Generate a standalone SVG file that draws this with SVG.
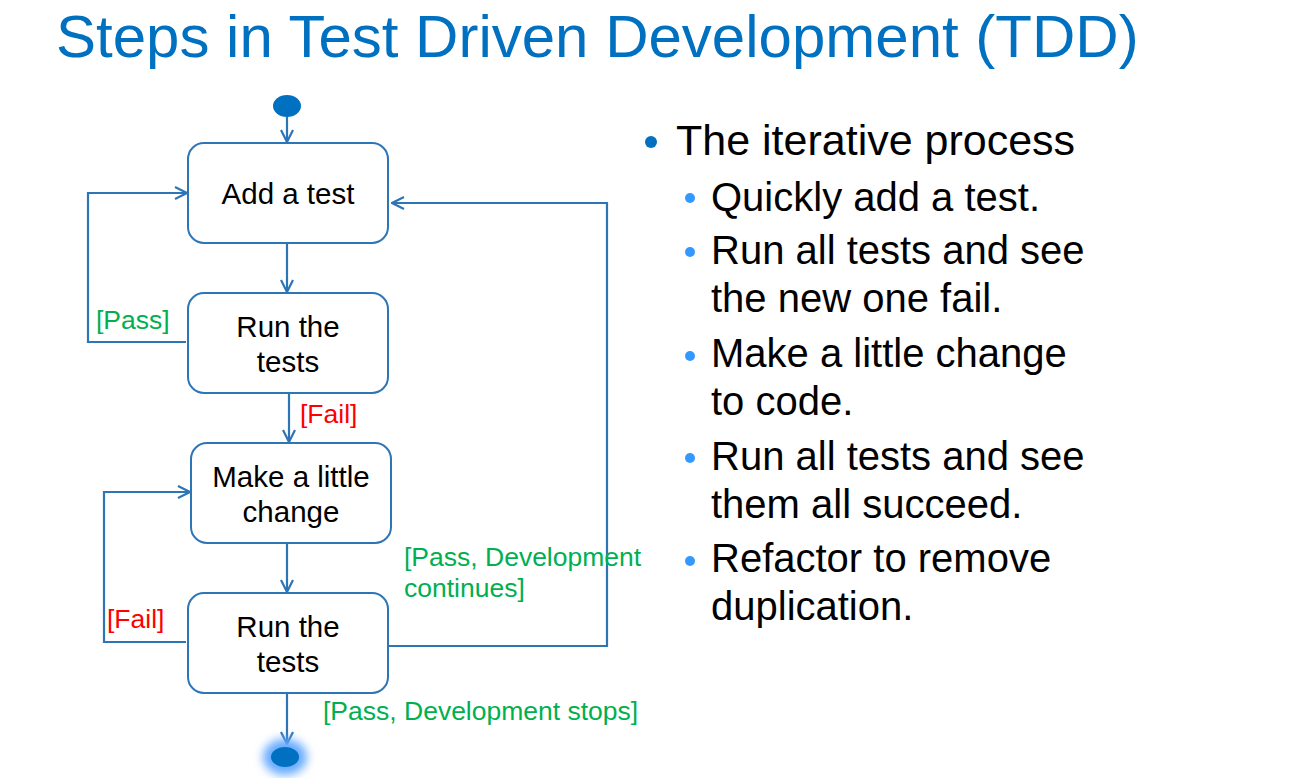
<svg xmlns="http://www.w3.org/2000/svg" width="1289" height="778" viewBox="0 0 1289 778">
  <style>
    .title { font-family: "Liberation Sans", Arial, sans-serif; font-size: 60px; fill: #0070C0; }
    .box { fill: #FFFFFF; stroke: #2E75B6; stroke-width: 2; }
    .lbl { font-family: "Liberation Sans", Arial, sans-serif; font-size: 29.5px; fill: #000000; text-anchor: middle; }
    .edge { fill: none; stroke: #2E75B6; stroke-width: 2.2; }
    .pass { font-family: "Liberation Sans", Arial, sans-serif; font-size: 26.5px; fill: #00B050; }
    .fail { font-family: "Liberation Sans", Arial, sans-serif; font-size: 26.5px; fill: #FF0000; }
    .b1 { font-family: "Liberation Sans", Arial, sans-serif; font-size: 43px; fill: #000000; }
    .b2 { font-family: "Liberation Sans", Arial, sans-serif; font-size: 40px; fill: #000000; }
  </style>
  <defs>
    <marker id="open" viewBox="0 0 14 14" refX="13" refY="7" markerWidth="14" markerHeight="14" markerUnits="userSpaceOnUse" orient="auto">
      <path d="M1,1 L13,7 L1,13" fill="none" stroke="#2E75B6" stroke-width="2.2"/>
    </marker>
    <filter id="glow" x="-100%" y="-100%" width="300%" height="300%">
      <feGaussianBlur stdDeviation="5"/>
    </filter>
  </defs>

  <rect width="1289" height="778" fill="#FFFFFF"/>

  <text class="title" x="56" y="57">Steps in Test Driven Development (TDD)</text>

  <!-- connectors -->
  <g id="connectors">
    <line class="edge" x1="287" y1="117" x2="287" y2="142" marker-end="url(#open)"/>
    <line class="edge" x1="287" y1="243" x2="287" y2="292" marker-end="url(#open)"/>
    <line class="edge" x1="289" y1="393" x2="289" y2="442" marker-end="url(#open)"/>
    <line class="edge" x1="287" y1="543" x2="287" y2="592" marker-end="url(#open)"/>
    <line class="edge" x1="287" y1="693" x2="287" y2="744" marker-end="url(#open)"/>
    <!-- pass: back to add a test -->
    <polyline class="edge" points="186,342 88,342 88,193 187,193" marker-end="url(#open)"/>
    <!-- fail: back to make a little change -->
    <polyline class="edge" points="186,642 104,642 104,492 190,492" marker-end="url(#open)"/>
    <!-- pass, development continues -->
    <polyline class="edge" points="388,646 607,646 607,203 392,203" marker-end="url(#open)"/>

    <text class="pass" x="96" y="329">[Pass]</text>
    <text class="fail" x="300" y="423">[Fail]</text>
    <text class="fail" x="107" y="628">[Fail]</text>
    <text class="pass" x="404" y="566">[Pass, Development</text>
    <text class="pass" x="404" y="597">continues]</text>
    <text class="pass" x="323" y="720">[Pass, Development stops]</text>
  </g>

  <g id="start">
    <ellipse cx="287" cy="106" rx="14" ry="11" fill="#0070C0"/>
  </g>

  <g id="add-test">
    <rect class="box" x="188" y="143" width="200" height="100" rx="16"/>
    <text class="lbl" x="288" y="204">Add a test</text>
  </g>

  <g id="run-tests-1">
    <rect class="box" x="188" y="293" width="200" height="100" rx="16"/>
    <text class="lbl" x="288" y="337">Run the</text>
    <text class="lbl" x="288" y="372">tests</text>
  </g>

  <g id="make-change">
    <rect class="box" x="191" y="443" width="200" height="100" rx="16"/>
    <text class="lbl" x="291" y="487">Make a little</text>
    <text class="lbl" x="291" y="522">change</text>
  </g>

  <g id="run-tests-2">
    <rect class="box" x="188" y="593" width="200" height="100" rx="16"/>
    <text class="lbl" x="288" y="637">Run the</text>
    <text class="lbl" x="288" y="672">tests</text>
  </g>

  <g id="end">
    <ellipse cx="285" cy="757" rx="22" ry="18" fill="#66AAFF" filter="url(#glow)"/>
    <ellipse cx="285" cy="757" rx="14" ry="10" fill="#0070C0"/>
  </g>

  <!-- bullet list -->
  <g id="notes">
    <circle cx="651" cy="142" r="6" fill="#0070C0"/>
    <text class="b1" x="676" y="155">The iterative process</text>

    <circle cx="690" cy="198" r="5" fill="#3399FF"/>
    <text class="b2" x="711" y="211">Quickly add a test.</text>

    <circle cx="690" cy="252" r="5" fill="#3399FF"/>
    <text class="b2" x="711" y="264">Run all tests and see</text>
    <text class="b2" x="711" y="312">the new one fail.</text>

    <circle cx="690" cy="356" r="5" fill="#3399FF"/>
    <text class="b2" x="711" y="367">Make a little change</text>
    <text class="b2" x="711" y="415">to code.</text>

    <circle cx="690" cy="458" r="5" fill="#3399FF"/>
    <text class="b2" x="711" y="470">Run all tests and see</text>
    <text class="b2" x="711" y="518">them all succeed.</text>

    <circle cx="690" cy="561" r="5" fill="#3399FF"/>
    <text class="b2" x="711" y="572">Refactor to remove</text>
    <text class="b2" x="711" y="620">duplication.</text>
  </g>
</svg>
